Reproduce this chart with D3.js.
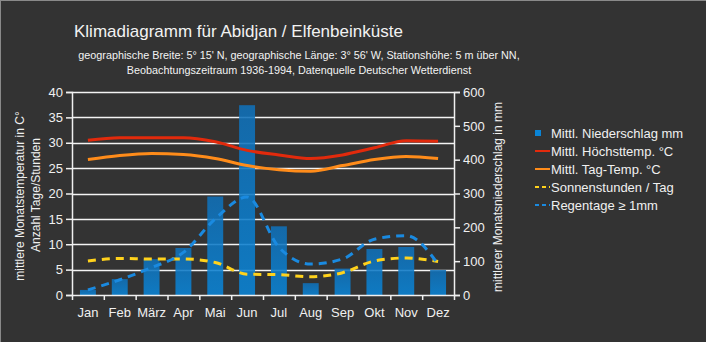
<!DOCTYPE html>
<html><head><meta charset="utf-8">
<script src="https://cdn.jsdelivr.net/npm/d3@7/dist/d3.min.js"></script>
<style>
html,body{margin:0;padding:0;background:#333;}
svg{display:block;font-family:"Liberation Sans",Arial,sans-serif;}
</style></head><body>
<svg id="c" width="706" height="342"></svg>
<script>
const months = ["Jan","Feb","März","Apr","Mai","Jun","Jul","Aug","Sep","Okt","Nov","Dez"];
const niederschlag = [15, 47, 106, 139, 291, 561, 203, 35, 78, 136, 142, 74];
const hoechstTemp = [30.5, 31, 31, 31, 30.2, 28.5, 27.6, 26.9, 27.6, 29, 30.4, 30.3];
const tagTemp = [26.7, 27.5, 27.9, 27.7, 26.9, 25.5, 24.7, 24.4, 25.5, 26.7, 27.3, 26.9];
const sonnenstunden = [6.7, 7.2, 7.1, 7.1, 6.4, 4.1, 4.0, 3.6, 4.4, 6.7, 7.3, 6.6];
const regentage = [1.0, 3.0, 5.4, 8.4, 15, 19.3, 9.4, 6.1, 7.1, 11, 11.7, 6.1];
const leftTicks = [0,5,10,15,20,25,30,35,40];
const rightTicks = [0,100,200,300,400,500,600];
const legendLabels = ["Mittl. Niederschlag mm","Mittl. Höchsttemp. °C","Mittl. Tag-Temp. °C","Sonnenstunden / Tag","Regentage ≥ 1mm"];

const svg = d3.select("#c");
const W = 706, H = 342;
svg.append("rect").attr("x",0.5).attr("y",0.5).attr("width",W).attr("height",H)
  .attr("fill","#333").attr("stroke","#8a8a8a").attr("stroke-width",1);

const L = 72, R = 454, T = 92, B = 295;
const x = d3.scaleBand().domain(months).range([L,R]).paddingInner(0.5).paddingOuter(0.25);
const xp = d3.scalePoint().domain(months).range([L,R]).padding(0.5);
const yL = d3.scaleLinear().domain([0,40]).range([B,T]);
const yR = d3.scaleLinear().domain([0,600]).range([B,T]);

// title
svg.append("text").attr("x",74).attr("y",37).attr("fill","#f2f2f2")
  .style("font-size","17px").text("Klimadiagramm für Abidjan / Elfenbeinküste");
svg.append("text").attr("x",299).attr("y",59).attr("text-anchor","middle").attr("fill","#f2f2f2")
  .style("font-size","10.8px").text("geographische Breite: 5° 15' N, geographische Länge: 3° 56' W, Stationshöhe: 5 m über NN,");
svg.append("text").attr("x",299).attr("y",74).attr("text-anchor","middle").attr("fill","#f2f2f2")
  .style("font-size","10.8px").text("Beobachtungszeitraum 1936-1994, Datenquelle Deutscher Wetterdienst");

// gridlines
svg.append("g").selectAll("line").data(leftTicks.slice(1)).join("line")
  .attr("x1",L).attr("x2",R).attr("y1",d=>Math.round(yL(d))+0.5).attr("y2",d=>Math.round(yL(d))+0.5)
  .attr("stroke","#ffffff").attr("stroke-width",1.5).attr("opacity",0.95);

// bars
const grad = svg.append("defs").append("linearGradient").attr("id","bg").attr("x1",0).attr("y1",0).attr("x2",0).attr("y2",1);
grad.append("stop").attr("offset","0%").attr("stop-color","#1070b8");
grad.append("stop").attr("offset","100%").attr("stop-color","#0a84d6");
svg.append("g").selectAll("rect").data(niederschlag).join("rect")
  .attr("x",(d,i)=>x(months[i])).attr("width",x.bandwidth())
  .attr("y",d=>yR(d)).attr("height",d=>B-yR(d))
  .attr("fill","url(#bg)").attr("opacity",0.88);

// axes
const fs = "13px";
const gl = svg.append("g").attr("transform",`translate(${L},0)`)
  .call(d3.axisLeft(yL).tickValues(leftTicks).tickSize(6).tickPadding(3));
const gr = svg.append("g").attr("transform",`translate(${R},0)`)
  .call(d3.axisRight(yR).tickValues(rightTicks).tickSize(6).tickPadding(3));
const gb = svg.append("g").attr("transform",`translate(0,${B})`)
  .call(d3.axisBottom(d3.scaleLinear().domain([0,12]).range([L,R])).tickValues(d3.range(13)).tickSize(5).tickFormat(""));
[gl,gr,gb].forEach(g=>{
  g.selectAll("path").attr("stroke","#f0f0f0").attr("stroke-width",1.5);
  g.selectAll("line").attr("stroke","#f0f0f0").attr("stroke-width",1.5);
  g.selectAll("text").attr("fill","#f0f0f0").style("font-size",fs).style("font-family","'Liberation Sans',Arial,sans-serif");
});
gb.select("path").attr("d",`M${L},0.5H${R}`);
svg.append("g").selectAll("text").data(months).join("text")
  .attr("x",d=>xp(d)).attr("y",317).attr("text-anchor","middle").attr("fill","#f0f0f0")
  .style("font-size",fs).text(d=>d);

// axis titles
svg.append("text").attr("transform","translate(24,196) rotate(-90)").attr("text-anchor","middle")
  .attr("fill","#f0f0f0").style("font-size","12px").text("mittlere Monatstemperatur in C°");
svg.append("text").attr("transform","translate(40,195) rotate(-90)").attr("text-anchor","middle")
  .attr("fill","#f0f0f0").style("font-size","12px").text("Anzahl Tage/Stunden");
svg.append("text").attr("transform","translate(502,197) rotate(-90)").attr("text-anchor","middle")
  .attr("fill","#f0f0f0").style("font-size","12px").text("mittlerer Monatsniederschlag in mm");

// lines
const line = d3.line().x((d,i)=>xp(months[i])).y(d=>yL(d)).curve(d3.curveMonotoneX);
const series = [
  {v:hoechstTemp, c:"#e22a0c", dash:null},
  {v:tagTemp, c:"#ff8c1a", dash:null},
  {v:sonnenstunden, c:"#ffd21c", dash:"8,6"},
  {v:regentage, c:"#1a8ae0", dash:"8,6"}
];
series.forEach(s=>{
  svg.append("path").attr("d",line(s.v)).attr("fill","none").attr("stroke",s.c)
    .attr("stroke-width",3).attr("stroke-dasharray",s.dash);
});

// legend
const lg = svg.append("g");
const colors = ["#0a84d6","#e22a0c","#ff8c1a","#ffd21c","#1a8ae0"];
legendLabels.forEach((t,i)=>{
  const cy = 133 + i*18;
  if(i===0){
    lg.append("rect").attr("x",535).attr("y",cy-3).attr("width",6).attr("height",6).attr("fill",colors[0]);
  } else {
    lg.append("line").attr("x1",535).attr("x2",550).attr("y1",cy).attr("y2",cy)
      .attr("stroke",colors[i]).attr("stroke-width",2).attr("stroke-dasharray",i>=3?"4,3":null);
  }
  lg.append("text").attr("x",551).attr("y",cy+5).attr("fill","#f0f0f0").style("font-size","13px").text(t);
});
</script>
</body></html>
